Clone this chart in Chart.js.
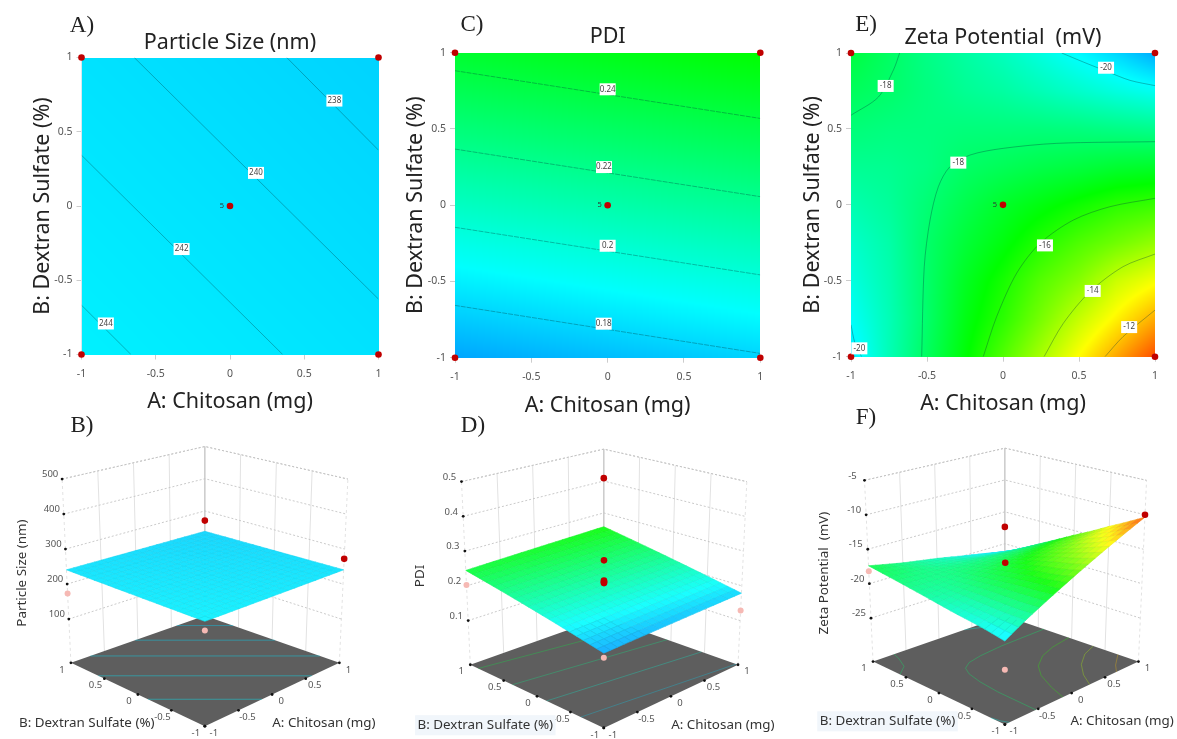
<!DOCTYPE html>
<html>
<head>
<meta charset="utf-8">
<title>Response surfaces</title>
<script src="https://cdn.jsdelivr.net/npm/chart.js@4/dist/chart.umd.min.js"></script>
<style>
  html, body { margin: 0; padding: 0; background: #fff; width: 1177px; height: 739px; overflow: hidden; }
  canvas { position: absolute; filter: blur(0.4px); }
  .tag { position: absolute; font: 23px "Liberation Serif", serif; color: #222; transform: translate(-50%, -50%); filter: blur(0.3px); }
</style>
</head>
<body>
<script>
// ---- values ----
const axisTicks = [-1, -0.5, 0, 0.5, 1];

// response values on the factor grid, first row is B = 1, first column is A = -1
const sizeGrid = [
  [240.7, 239.72, 238.73, 237.75, 236.76],
  [241.69, 240.7, 239.72, 238.73, 237.75],
  [242.67, 241.69, 240.7, 239.72, 238.73],
  [243.66, 242.67, 241.69, 240.7, 239.72],
  [244.64, 243.66, 242.67, 241.69, 240.7]
];
const pdiGrid = [
  [0.2445, 0.2476, 0.2507, 0.2537, 0.2568],
  [0.2250, 0.2281, 0.2312, 0.2342, 0.2373],
  [0.2056, 0.2086, 0.2117, 0.2148, 0.2178],
  [0.1861, 0.1891, 0.1922, 0.1953, 0.1983],
  [0.1666, 0.1697, 0.1727, 0.1758, 0.1788]
];
const zetaGrid = [
  [-17.4, -17.9, -18.4, -18.8, -19.2, -19.7, -20.2, -20.7, -21.3],
  [-17.8, -18, -18.3, -18.6, -18.8, -19.1, -19.4, -19.7, -19.95],
  [-18.2, -18.3, -18.3, -18.25, -18.25, -18.25, -18.3, -18.4, -18.5],
  [-18.6, -18.55, -18.35, -17.95, -17.75, -17.55, -17.4, -17.2, -17.1],
  [-19, -18.7, -18.15, -17.6, -17.1, -16.7, -16.3, -15.9, -15.7],
  [-19.4, -18.9, -18, -17.3, -16.7, -16, -15.4, -14.9, -14.4],
  [-19.7, -19, -18, -17, -16.2, -15.3, -14.6, -13.6, -13],
  [-20.05, -19.1, -18, -16.8, -15.9, -14.8, -13.7, -12.7, -11.7],
  [-20.5, -19.1, -17.85, -16.6, -15.35, -14.1, -12.85, -11.6, -10.35]
];

// contour lines as [A, B] pairs
const sizeContours = [
  [[0.382, 1], [1, 0.376]],
  [[-0.645, 1], [1, -0.627]],
  [[-1, 0.342], [0.355, -1]],
  [[-1, -0.668], [-0.667, -1]]
];
const pdiContours = [
  [[-1, 0.882], [1, 0.569]],
  [[-1, 0.368], [1, 0.056]],
  [[-1, -0.145], [1, -0.457]],
  [[-1, -0.657], [1, -0.972]]
];
const zetaContours = [
  [[0.386, 1], [0.53, 0.94], [0.68, 0.88], [0.835, 0.82], [1, 0.785]],
  [[-0.68, 1], [-0.72, 0.89], [-0.82, 0.71], [-1, 0.59]],
  [[-0.535, -1], [-0.518, -0.407], [-0.48, -0.1], [-0.425, 0.12], [-0.35, 0.25], [-0.217, 0.328], [0, 0.372], [0.353, 0.405], [1, 0.416]],
  [[-0.13, -1], [-0.042, -0.737], [0.09, -0.45], [0.243, -0.254], [0.463, -0.1], [0.704, -0.012], [1, 0.043]],
  [[0.27, -1], [0.397, -0.78], [0.572, -0.572], [0.79, -0.407], [1, -0.324]],
  [[0.671, -1], [0.79, -0.868], [1, -0.693]],
  [[-1, -0.79], [-0.974, -0.91], [-0.93, -1]]
];
const sizeLevels = [238, 240, 242, 244];
const pdiLevels = [0.24, 0.22, 0.2, 0.18];
const zetaLevels = [-20, -18, -18, -16, -14, -12, -20];

// contour labels: A, B, text
const sizeLabels = [[0.703, 0.71, '238'], [0.175, 0.223, '240'], [-0.326, -0.29, '242'], [-0.836, -0.791, '244']];
const pdiLabels = [[0, 0.76, '0.24'], [-0.024, 0.25, '0.22'], [0, -0.266, '0.2'], [-0.026, -0.777, '0.18']];
const zetaLabels = [[0.678, 0.903, '-20'], [-0.772, 0.783, '-18'], [-0.294, 0.278, '-18'], [0.276, -0.267, '-16'], [0.59, -0.567, '-14'], [0.83, -0.805, '-12'], [-0.945, -0.945, '-20']];

const designPoints = [[-1, 1], [1, 1], [0, 0], [-1, -1], [1, -1]];

// floor contours of the particle size surface
const sizeFloorLines = [
  [[0.58, 1], [1, 0.58]],
  [[-0.04, 1], [1, -0.04]],
  [[-0.71, 1], [1, -0.71]],
  [[-1, 0.59], [0.59, -1]],
  [[-1, -0.15], [-0.15, -1]]
];
const sizeFloorLevels = [237, 239, 241, 243, 245];

// measured runs in the 3D views: A, B, response
const sizeRuns = [[1, 1, 270], [1, -1, 272]];
const sizeRunsBelow = [[-1, 1, 173], [-1, -1, 221]];
const pdiRuns = [[1, 1, 0.409], [0, 0, 0.2825], [0, 0, 0.225], [0, 0, 0.222], [0, 0, 0.2195], [0, 0, 0.2175]];
const pdiRunsBelow = [[-1, 1, 0.2023], [1, -1, 0.1293], [-1, -1, 0.155]];
const zetaRuns = [[1, -1, -10], [1, 1, -17.36], [0, 0, -16.5]];
const zetaRunsBelow = [[-1, 1, -18.2], [-1, -1, -24.2]];

const sizeZTicks = [100, 200, 300, 400, 500];
const pdiZTicks = [0.1, 0.2, 0.3, 0.4, 0.5];
const zetaZTicks = [-25, -20, -15, -10, -5];

// ---- colours ----
const rampStops = [[0, 0, 255], [0, 255, 255], [0, 255, 0], [255, 255, 0], [255, 0, 0]];
function ramp(t) {
  t = Math.min(Math.max(t, 0), 1) * 4;
  const i = Math.min(Math.floor(t), 3), f = t - i;
  return rampStops[i].map((c, k) => c + (rampStops[i + 1][k] - c) * f);
}
function shade(rgb, white, dark) {
  const c = rgb.map(v => Math.round((v + (255 - v) * white) * (1 - dark)));
  return `rgb(${c[0]},${c[1]},${c[2]})`;
}

// reads the response grid at any A, B
function gridAt(grid, a, b) {
  const n = grid.length - 1;
  const cf = (a + 1) / 2 * n, rf = (1 - b) / 2 * n;
  const c = Math.min(Math.floor(cf), n - 1), r = Math.min(Math.floor(rf), n - 1);
  const u = cf - c, v = rf - r;
  return (grid[r][c] * (1 - u) + grid[r][c + 1] * u) * (1 - v) + (grid[r + 1][c] * (1 - u) + grid[r + 1][c + 1] * u) * v;
}

// draws text through the scales
function notesPlugin(items) {
  return {
    id: 'notes',
    afterDatasetsDraw(chart) {
      const { ctx, scales } = chart;
      for (const n of items) {
        const x = scales.x.getPixelForValue(n.x) + (n.dx || 0);
        const y = scales.y.getPixelForValue(n.y) + (n.dy || 0);
        ctx.save();
        ctx.translate(x, y);
        if (n.rot) ctx.rotate(n.rot);
        ctx.font = `${n.size}px "Noto Sans"`;
        ctx.textAlign = 'center';
        ctx.textBaseline = 'middle';
        if (n.box) {
          const w = n.boxW || ctx.measureText(n.text).width + 5;
          ctx.fillStyle = n.box;
          ctx.fillRect(-w / 2, -n.size * 0.75, w, n.size * 1.5);
        }
        ctx.fillStyle = n.color || '#555';
        ctx.fillText(n.text, 0, 0);
        ctx.restore();
      }
    }
  };
}

function heatPlugin(grid, lo, hi) {
  const res = 300;
  const off = document.createElement('canvas');
  off.width = off.height = res;
  const octx = off.getContext('2d');
  const img = octx.createImageData(res, res);
  for (let r = 0; r < res; r++) {
    for (let c = 0; c < res; c++) {
      const rgb = ramp((gridAt(grid, (c + 0.5) / res * 2 - 1, 1 - (r + 0.5) / res * 2) - lo) / (hi - lo));
      const p = (r * res + c) * 4;
      img.data[p] = rgb[0]; img.data[p + 1] = rgb[1]; img.data[p + 2] = rgb[2]; img.data[p + 3] = 255;
    }
  }
  octx.putImageData(img, 0, 0);
  return {
    id: 'heat',
    beforeDatasetsDraw(chart) {
      const { x, y } = chart.scales;
      const left = x.getPixelForValue(-1), top = y.getPixelForValue(1);
      chart.ctx.drawImage(off, left, top, x.getPixelForValue(1) - left, y.getPixelForValue(-1) - top);
    }
  };
}

function placeCanvas(left, top, width, height) {
  const wrap = document.createElement('canvas');
  wrap.width = width; wrap.height = height;
  wrap.style.left = left + 'px';
  wrap.style.top = top + 'px';
  wrap.style.width = width + 'px';
  wrap.style.height = height + 'px';
  document.body.appendChild(wrap);
  return wrap;
}

// ---- contour panels ----
function contourChart(cfg) {
  const titleSize = 21.5;
  const left = Math.round(cfg.yTitleX - 13), right = Math.round(cfg.plot.right + 16);
  const top = Math.round(cfg.titleY - titleSize / 2), bottom = Math.round(cfg.xTitleY + 13);
  const canvas = placeCanvas(left, top, right - left, bottom - top);
  const titleBlock = cfg.plot.top - top;
  const datasets = [{
    data: designPoints.map(p => ({ x: p[0], y: p[1] })),
    pointRadius: 3.3, backgroundColor: '#c00000', borderWidth: 0, clip: false, order: 1
  }];
  cfg.lines.forEach(line => datasets.push({
    data: line.map(p => ({ x: p[0], y: p[1] })),
    showLine: true, pointRadius: 0, borderWidth: 0.9, tension: 0.3,
    borderColor: 'rgba(0,60,60,0.38)', borderDash: cfg.dash, order: 2
  }));
  const notes = cfg.labels.map(l => ({ x: l[0], y: l[1], text: l[2], size: 8, color: '#444', box: '#fff', boxW: 16 }));
  notes.push({ x: 0, y: 0, dx: -8, text: '5', size: 7.5, color: '#333' });
  const tickText = v => String(v);
  new Chart(canvas, {
    type: 'scatter',
    data: { datasets },
    plugins: [heatPlugin(cfg.grid, cfg.lo, cfg.hi), notesPlugin(notes)],
    options: {
      responsive: false, animation: false, events: [],
      layout: { padding: { right: right - cfg.plot.right } },
      plugins: {
        legend: { display: false }, tooltip: { enabled: false },
        title: {
          display: true, text: cfg.title, fullSize: false, color: '#222',
          font: { family: 'Noto Sans', size: titleSize, weight: 'normal', lineHeight: 1 },
          padding: { top: 0, bottom: titleBlock - titleSize }
        }
      },
      scales: {
        x: {
          min: -1, max: 1,
          afterBuildTicks: s => { s.ticks = axisTicks.map(v => ({ value: v })); },
          afterFit: s => { s.height = bottom - cfg.plot.bottom; },
          grid: { drawOnChartArea: false, tickLength: 5, color: '#ccc' },
          border: { color: '#d8e8ee' },
          ticks: { color: '#555', font: { family: 'Noto Sans', size: 10.5 }, padding: 8, maxRotation: 0, autoSkip: false, callback: tickText },
          title: { display: true, text: 'A: Chitosan (mg)', color: '#222', padding: 0, font: { family: 'Noto Sans', size: 21.5 } }
        },
        y: {
          min: -1, max: 1,
          afterBuildTicks: s => { s.ticks = axisTicks.map(v => ({ value: v })); },
          afterFit: s => { s.width = cfg.plot.left - left; },
          grid: { drawOnChartArea: false, tickLength: 5, color: '#ccc' },
          border: { color: '#d8e8ee' },
          ticks: { color: '#555', font: { family: 'Noto Sans', size: 10.5 }, padding: 4, autoSkip: false, callback: tickText },
          title: { display: true, text: 'B: Dextran Sulfate (%)', color: '#222', padding: 0, font: { family: 'Noto Sans', size: 21.5 } }
        }
      }
    }
  });
}

contourChart({
  title: 'Particle Size (nm)', plot: { left: 81.5, right: 378.5, top: 57.5, bottom: 354.5 },
  titleY: 43, xTitleY: 402, yTitleX: 43,
  grid: sizeGrid, lo: 181.5, hi: 448.5, lines: sizeContours, labels: sizeLabels, dash: []
});
contourChart({
  title: 'PDI', plot: { left: 455, right: 760.3, top: 52.7, bottom: 357.7 },
  titleY: 37, xTitleY: 406, yTitleX: 416,
  grid: pdiGrid, lo: 0.1232, hi: 0.3904, lines: pdiContours, labels: pdiLabels, dash: [5, 1]
});
contourChart({
  title: 'Zeta Potential  (mV)', plot: { left: 851, right: 1155, top: 53, bottom: 356.7 },
  titleY: 38, xTitleY: 404, yTitleX: 813,
  grid: zetaGrid, lo: -23.75, hi: -9.25, lines: zetaContours, labels: zetaLabels, dash: []
});

// ---- 3D panels ----
function surfaceChart(cfg) {
  const box = cfg.box;
  const canvas = placeCanvas(box.left, 410, box.right - box.left, 329);
  // camera: where the eight corners of the cube land, F is A=-1 B=-1, R is A=1 B=-1, L is A=-1 B=1, K is A=1 B=1
  const corner = (c, u, v) => [0, 1].map(k =>
    (c.F[k] * (1 - u) + c.R[k] * u) * (1 - v) + (c.L[k] * (1 - u) + c.K[k] * u) * v);
  const project = (a, b, h) => {
    const u = (a + 1) / 2, v = (b + 1) / 2;
    const f = corner(cfg.floor, u, v), t = corner(cfg.top, u, v);
    return { x: f[0] + (t[0] - f[0]) * h, y: f[1] + (t[1] - f[1]) * h };
  };
  const level = z => (z - cfg.zFloor) / (cfg.zTop - cfg.zFloor);
  const datasets = [];
  const line = (pts, color, width, dash, order) => datasets.push({
    data: pts, showLine: true, pointRadius: 0, borderColor: color, borderWidth: width, borderDash: dash || [], order
  });

  // walls
  cfg.zTicks.forEach(z => {
    const h = level(z);
    line([project(-1, 1, h), project(1, 1, h), project(1, -1, h)], '#c4c4c4', 0.9, [2, 2], 50);
  });
  axisTicks.forEach(t => {
    line([project(t, 1, 0), project(t, 1, 1)], t === 1 ? '#c8c8c8' : '#e2e2e2', 1, t === -1 ? [3, 3] : [], 50);
    line([project(1, t, 0), project(1, t, 1)], t === 1 ? '#c8c8c8' : '#e2e2e2', 1, t === -1 ? [3, 3] : [], 50);
  });
  line([project(-1, 1, 1), project(1, 1, 1), project(1, -1, 1)], '#c4c4c4', 0.9, [2, 2], 50);

  // floor
  datasets.push({
    data: [project(-1, -1, 0), project(1, -1, 0), project(1, 1, 0), project(-1, 1, 0), project(-1, -1, 0)],
    showLine: true, pointRadius: 0, borderWidth: 0, backgroundColor: '#5e5e5e', fill: 'shape', order: 40
  });
  cfg.floorLines.forEach((pts, i) => {
    const rgb = ramp((cfg.floorLevels[i] - cfg.lo) / (cfg.hi - cfg.lo));
    line(pts.map(p => project(p[0], p[1], 0)), `rgba(${rgb[0]},${rgb[1]},${rgb[2]},${cfg.floorAlpha})`, 0.9, [], 30);
  });

  // surface mesh
  const div = 20;
  for (let i = 0; i < div; i++) {
    for (let j = 0; j < div; j++) {
      const a0 = -1 + 2 * i / div, a1 = -1 + 2 * (i + 1) / div;
      const b0 = -1 + 2 * j / div, b1 = -1 + 2 * (j + 1) / div;
      const corners = [[a0, b0], [a1, b0], [a1, b1], [a0, b1], [a0, b0]];
      const mid = gridAt(cfg.grid, (a0 + a1) / 2, (b0 + b1) / 2);
      const rgb = ramp((mid - cfg.lo) / (cfg.hi - cfg.lo));
      datasets.push({
        data: corners.map(p => project(p[0], p[1], level(gridAt(cfg.grid, p[0], p[1])))),
        showLine: true, pointRadius: 0, fill: 'shape',
        backgroundColor: shade(rgb, 0.1, 0), borderColor: shade(rgb, 0.1, 0.05), borderWidth: 0.6, order: 20
      });
    }
  }

  // tick dots
  const dots = axisTicks.flatMap(t => [project(t, -1, 0), project(-1, t, 0)]).concat(cfg.zTicks.map(z => project(-1, 1, level(z))));
  datasets.push({ data: dots, pointRadius: 1.4, backgroundColor: '#111', borderWidth: 0, order: 5 });

  // runs
  const runPoint = r => project(r[0], r[1], level(r[2]));
  datasets.push({ data: cfg.runs.map(runPoint), pointRadius: 3.3, backgroundColor: '#c00000', borderWidth: 0, order: 3 });
  datasets.push({ data: cfg.below.map(runPoint), pointRadius: 3, backgroundColor: '#f6b9b4', borderWidth: 0, order: 3 });

  // labels
  const notes = [];
  axisTicks.forEach(t => {
    notes.push({ ...project(-1, t, 0), dx: -9, dy: 7, text: String(t), size: 9.5 });
    notes.push({ ...project(t, -1, 0), dx: 9, dy: 7, text: String(t), size: 9.5 });
  });
  cfg.zTicks.forEach(z => notes.push({ ...project(-1, 1, level(z)), dx: -12, dy: -4.5, text: String(z), size: 9.5 }));
  notes.push({ x: cfg.zLabel[0], y: cfg.zLabel[1], text: cfg.zTitle, size: 13.4, color: '#333', rot: -Math.PI / 2 });
  notes.push({ x: cfg.bLabel[0], y: cfg.bLabel[1], text: 'B: Dextran Sulfate (%)', size: 13.4, color: '#333', box: cfg.labelBox });
  notes.push({ x: cfg.aLabel[0], y: cfg.aLabel[1], text: 'A: Chitosan (mg)', size: 13.4, color: '#333' });

  new Chart(canvas, {
    type: 'scatter',
    data: { datasets },
    plugins: [notesPlugin(notes)],
    options: {
      responsive: false, animation: false, events: [],
      plugins: { legend: { display: false }, tooltip: { enabled: false } },
      scales: {
        x: { display: false, min: box.left, max: box.right },
        y: { display: false, min: 410, max: 739, reverse: true }
      }
    }
  });
}

surfaceChart({
  box: { left: 0, right: 395 }, grid: sizeGrid, lo: 181.5, hi: 448.5,
  zFloor: -25, zTop: 500, zTicks: sizeZTicks, zTitle: 'Particle Size (nm)',
  floor: { L: [68.3, 665], R: [342.3, 665], F: [205, 730], K: [205, 616.7] },
  top: { L: [59.3, 476.7], R: [351, 476.7], F: [205, 520.7], K: [205, 443.3] },
  floorLines: sizeFloorLines, floorLevels: sizeFloorLevels, floorAlpha: 0.45,
  runs: sizeRuns, below: sizeRunsBelow,
  zLabel: [19, 573], bLabel: [84.5, 727], aLabel: [326.5, 727]
});
surfaceChart({
  box: { left: 400, right: 790 }, grid: pdiGrid, lo: 0.1232, hi: 0.3904,
  zFloor: -0.027, zTop: 0.5, zTicks: pdiZTicks, zTitle: 'PDI',
  floor: { L: [467.7, 667], R: [741, 667], F: [604, 731.7], K: [604, 618.3] },
  top: { L: [458.7, 479.3], R: [750, 479.3], F: [604, 523.3], K: [604, 446] },
  floorLines: pdiContours, floorLevels: pdiLevels, floorAlpha: 0.3,
  runs: pdiRuns, below: pdiRunsBelow,
  zLabel: [417, 576], bLabel: [483, 729], aLabel: [725.5, 729], labelBox: '#f1f6fb'
});
surfaceChart({
  box: { left: 790, right: 1177 }, grid: zetaGrid, lo: -23.75, hi: -9.25,
  zFloor: -31.3, zTop: -5, zTicks: zetaZTicks, zTitle: 'Zeta Potential  (mV)',
  floor: { L: [870.7, 663.7], R: [1141.7, 663.7], F: [1005.3, 728.3], K: [1005.3, 616.7] },
  top: { L: [862, 478], R: [1150, 478], F: [1005.3, 520], K: [1005.3, 445] },
  floorLines: zetaContours, floorLevels: zetaLevels, floorAlpha: 0.35,
  runs: zetaRuns, below: zetaRunsBelow,
  zLabel: [821, 573], bLabel: [885.5, 725], aLabel: [1125, 725], labelBox: '#f1f6fb'
});

// panel letters
[['A)', 82, 25], ['B)', 82, 425], ['C)', 472, 24], ['D)', 473, 425], ['E)', 866, 24], ['F)', 866, 417]].forEach(t => {
  const el = document.createElement('div');
  el.className = 'tag';
  el.textContent = t[0];
  el.style.left = t[1] + 'px';
  el.style.top = t[2] + 'px';
  document.body.appendChild(el);
});
</script>
</body>
</html>
